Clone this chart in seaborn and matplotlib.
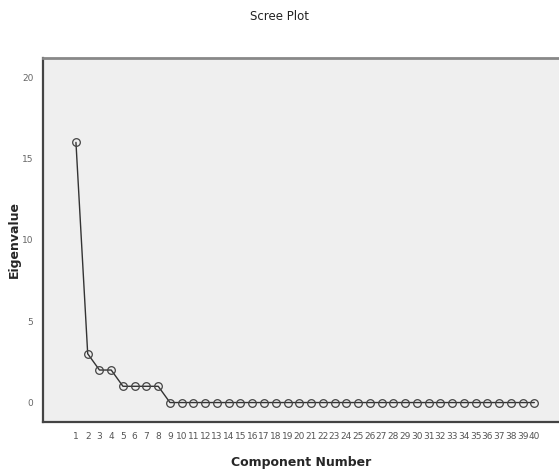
import seaborn as sns
import matplotlib.pyplot as plt
import pandas as pd

# scree plot values
components = list(range(1, 41))
eigenvalues = [16, 3, 2, 2, 1, 1, 1, 1] + [0] * 32
y_ticks = [0, 5, 10, 15, 20]


def set_seaborn_style():
    sns.set_style("white")
    plt.rcParams['font.family'] = ['DejaVu Sans']


def plot_scree(df):
    fig = plt.figure(figsize=(5.59, 4.70), dpi=100)
    ax = fig.add_axes([0.077, 0.102, 0.923, 0.775])
    ax.set_facecolor('#efefef')

    sns.lineplot(data=df, x='component', y='eigenvalue', ax=ax,
                 color='#333333', linewidth=1.0, marker='o', markersize=5.5,
                 markerfacecolor='none', markeredgecolor='#444444',
                 markeredgewidth=0.9)

    ax.set_xlim(-1.8, 42.1)
    ax.set_ylim(-1.2, 21.2)
    ax.set_xticks(components)
    ax.set_xticklabels([str(c) for c in components], fontsize=6.5,
                       color='#555555')
    ax.set_yticks(y_ticks)
    ax.set_yticklabels([str(t) for t in y_ticks], fontsize=6.5,
                       color='#666666')
    ax.tick_params(axis='both', direction='out', length=5, width=1.0,
                   color='#333333', pad=2)

    for side in ['left', 'bottom']:
        ax.spines[side].set_color('#444444')
        ax.spines[side].set_linewidth(1.6)
    ax.spines['top'].set_color('#888888')
    ax.spines['top'].set_linewidth(2.0)
    ax.spines['right'].set_visible(False)

    ax.set_xlabel('Component Number', fontsize=9, fontweight='bold',
                  labelpad=11)
    ax.set_ylabel('Eigenvalue', fontsize=9, fontweight='bold', labelpad=1)
    fig.text(0.5, 0.965, 'Scree Plot', ha='center', va='center', fontsize=8.5,
             color='#222222')

    fig.savefig('out.png', dpi=100)


set_seaborn_style()
scree = pd.DataFrame({'component': components, 'eigenvalue': eigenvalues})
plot_scree(scree)
